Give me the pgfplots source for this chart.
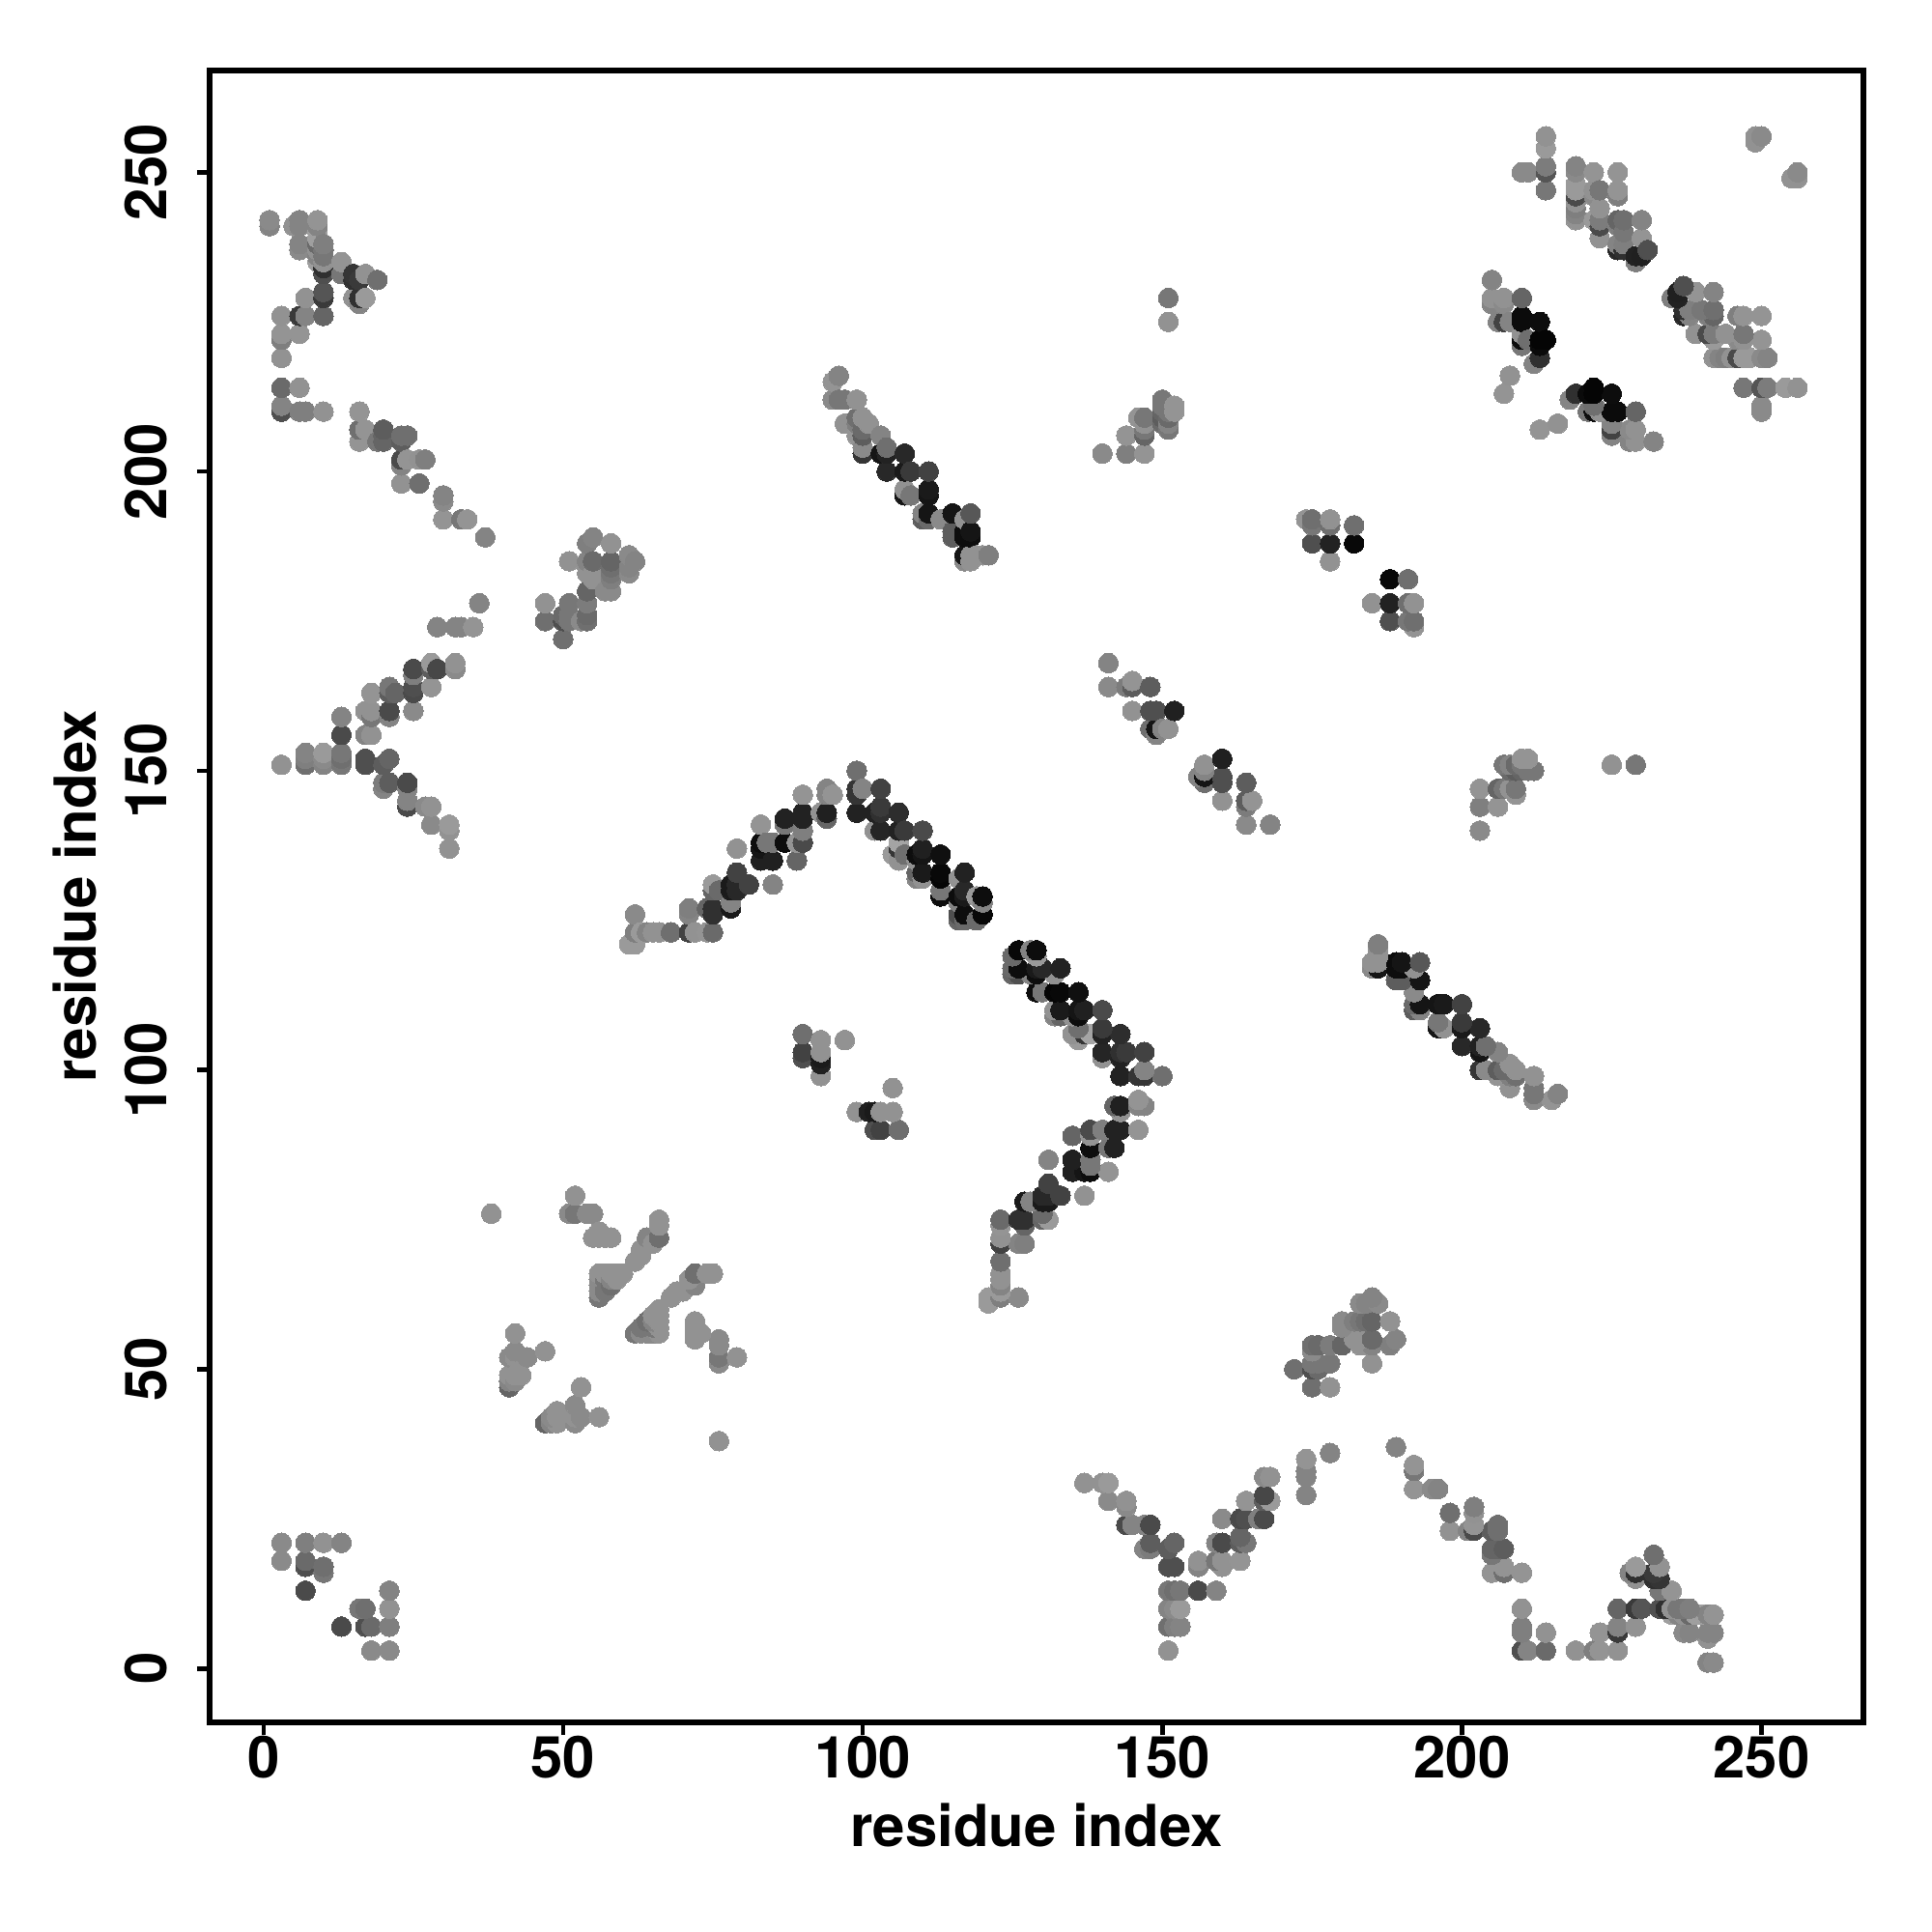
\documentclass[border=0pt]{standalone}
\usepackage{fontspec}
\setmainfont{TeX Gyre Heros}
\usepackage{pgfplots}
\usepackage{pgfplotstable}
\pgfplotsset{compat=1.18}

% contacts above the diagonal: residue i, residue j, grey level in percent
% the map is symmetric, so the same table is plotted twice
\pgfplotstableread[row sep=\\]{
i j g\\
1 241 50\\1 242 52\\3 219 55\\3 222 48\\3 223 56\\3 226 55\\5 241 55\\6 223 56\\6 226 22\\6 237 52\\6 238 50\\6 241 50\\6 242 50\\
7 226 50\\7 229 55\\9 235 60\\9 236 50\\9 237 55\\9 238 40\\9 239 60\\9 240 60\\9 241 50\\9 242 56\\
10 226 38\\10 229 22\\10 230 32\\10 233 30\\10 234 18\\10 235 55\\10 236 45\\10 237 45\\10 238 48\\
13 233 45\\13 235 56\\15 229 55\\15 232 18\\15 233 20\\16 228 50\\16 229 18\\16 232 22\\17 229 58\\17 233 55\\19 232 42\\
3 210 30\\3 211 50\\3 214 40\\6 210 48\\6 214 55\\7 210 48\\10 210 55\\16 205 56\\16 207 42\\16 210 56\\17 207 56\\19 205 45\\
20 205 38\\20 206 38\\20 207 35\\23 198 55\\23 201 50\\23 202 28\\23 205 35\\23 206 42\\24 202 56\\24 206 42\\26 198 42\\26 202 55\\
27 202 48\\30 192 56\\30 195 52\\30 196 50\\33 192 45\\34 192 56\\37 189 50\\
47 175 42\\47 178 55\\50 172 42\\50 175 30\\50 176 40\\51 175 45\\51 176 45\\51 178 45\\51 185 55\\53 175 52\\
54 175 42\\54 176 40\\54 178 47\\54 180 38\\54 183 55\\54 184 55\\54 185 50\\54 188 48\\55 182 55\\55 183 55\\55 185 40\\55 189 50\\
57 180 52\\58 180 52\\58 182 48\\58 183 45\\58 184 42\\58 185 38\\58 188 55\\61 183 52\\61 184 50\\61 186 52\\62 185 50\\
3 151 55\\7 151 42\\7 152 48\\7 153 50\\10 151 50\\10 152 52\\10 153 58\\13 151 45\\13 152 42\\13 153 45\\13 156 28\\13 159 50\\
17 151 30\\17 152 30\\17 156 50\\17 160 55\\18 156 55\\18 159 45\\18 160 55\\18 163 56\\20 147 50\\20 148 47\\20 151 35\\
21 148 35\\21 152 38\\21 159 50\\21 160 28\\21 163 35\\21 164 45\\22 163 38\\24 144 28\\24 145 50\\24 147 50\\24 148 28\\
25 160 52\\25 163 28\\25 164 30\\25 166 48\\25 167 28\\27 144 52\\28 141 52\\28 144 55\\28 164 56\\28 167 35\\28 168 58\\
29 167 27\\29 174 50\\31 137 55\\31 140 55\\31 141 58\\32 167 52\\32 168 55\\32 174 50\\33 174 50\\35 174 56\\36 178 50\\
61 121 58\\62 121 58\\62 123 48\\62 126 52\\63 123 58\\64 123 50\\65 123 55\\66 123 55\\68 123 42\\
71 123 25\\71 126 50\\71 127 48\\72 123 55\\74 123 56\\74 127 38\\75 123 40\\75 126 18\\75 127 18\\75 130 38\\75 131 58\\
76 130 40\\78 127 10\\78 128 50\\78 130 10\\78 131 10\\79 130 15\\79 131 15\\79 133 25\\79 137 55\\81 131 25\\
83 135 12\\83 137 8\\83 138 5\\83 141 56\\84 138 45\\85 131 50\\85 135 12\\85 138 45\\87 138 5\\87 141 45\\87 142 13\\
89 135 38\\89 138 56\\90 138 28\\90 140 48\\90 142 13\\90 143 13\\90 146 56\\93 143 55\\94 142 38\\94 143 12\\94 146 50\\94 147 50\\95 146 56\\
99 143 13\\99 146 20\\99 147 20\\99 150 42\\100 147 50\\102 140 55\\102 143 13\\103 140 14\\103 143 18\\103 144 22\\103 147 25\\
105 136 58\\106 135 55\\106 137 20\\106 138 62\\106 140 13\\106 143 17\\107 136 42\\107 140 22\\
109 132 50\\109 133 38\\109 135 55\\109 136 5\\110 132 55\\110 133 10\\110 136 8\\110 137 12\\110 140 28\\
113 129 5\\113 130 45\\113 132 2\\113 133 3\\113 136 6\\116 125 38\\116 126 30\\116 128 50\\116 129 5\\116 132 55\\
117 125 40\\117 126 5\\117 129 10\\117 130 15\\117 133 13\\119 125 40\\119 129 58\\120 126 3\\120 128 50\\120 129 5\\
90 102 30\\90 103 25\\90 106 42\\93 99 55\\93 101 12\\93 102 10\\93 103 55\\93 105 55\\97 105 55\\
95 212 52\\95 215 56\\96 212 45\\96 216 50\\97 208 55\\97 212 45\\99 206 56\\99 208 48\\99 209 42\\99 212 55\\
100 203 20\\100 204 52\\100 206 35\\100 207 40\\100 209 55\\101 208 55\\103 203 8\\103 206 50\\104 200 15\\104 203 13\\104 204 42\\
107 196 8\\107 197 55\\107 200 10\\107 203 15\\108 196 45\\108 200 22\\110 192 35\\110 193 50\\111 192 40\\111 193 8\\111 196 8\\111 197 10\\111 200 25\\
113 192 52\\115 189 35\\115 190 35\\115 193 8\\117 185 52\\117 186 8\\117 189 5\\117 190 5\\117 192 55\\118 185 55\\118 186 55\\118 189 5\\118 190 8\\118 193 33\\
119 186 55\\120 186 55\\121 186 48\\
140 203 52\\144 203 48\\144 206 56\\146 209 56\\147 203 56\\147 206 38\\147 207 45\\147 208 55\\147 209 45\\
150 208 40\\150 209 35\\150 210 38\\150 211 45\\150 212 45\\151 207 45\\151 208 50\\151 209 40\\151 210 45\\151 225 55\\151 229 45\\152 210 56\\152 211 56\\
141 164 52\\141 168 50\\144 164 47\\145 160 55\\145 164 35\\145 165 56\\148 157 42\\148 160 30\\148 164 35\\
149 156 50\\149 157 8\\149 160 30\\150 157 50\\151 157 55\\152 160 12\\
174 192 56\\175 188 30\\175 191 45\\175 192 42\\178 185 55\\178 188 13\\178 191 42\\178 192 55\\182 188 3\\182 191 42\\
205 228 50\\205 229 55\\205 232 50\\206 225 50\\207 213 56\\207 225 25\\207 228 52\\207 229 55\\208 216 55\\208 225 50\\
210 221 45\\210 222 5\\210 223 55\\210 225 4\\210 226 4\\210 229 38\\211 222 42\\212 218 50\\213 219 18\\213 221 4\\213 222 2\\213 225 5\\214 222 2\\
210 250 52\\211 250 52\\214 247 45\\214 250 32\\214 251 47\\214 254 58\\214 256 55\\
219 242 55\\219 243 50\\219 244 48\\219 245 55\\219 246 28\\219 247 58\\219 248 58\\219 250 52\\219 251 50\\
222 242 58\\222 246 52\\222 247 55\\222 250 56\\223 239 55\\223 241 28\\223 242 47\\223 244 55\\223 247 45\\
226 237 15\\226 238 50\\226 241 48\\226 242 38\\226 246 48\\226 247 56\\226 250 56\\
227 237 18\\227 238 48\\227 240 45\\227 242 42\\229 235 48\\229 236 13\\230 236 12\\230 239 56\\230 242 50\\231 237 30\\
249 255 55\\249 256 55\\250 256 52\\
3 18 52\\3 21 52\\7 13 28\\7 17 30\\7 18 40\\7 21 48\\10 16 45\\10 17 42\\10 21 55\\13 21 50\\
38 76 55\\41 47 38\\41 48 50\\41 49 55\\41 52 52\\42 48 52\\42 49 55\\42 52 55\\42 53 52\\42 56 55\\43 49 55\\44 52 52\\47 53 55\\
51 76 52\\52 76 45\\52 79 55\\54 76 52\\55 72 55\\55 76 52\\56 62 45\\56 63 52\\56 64 52\\56 65 52\\56 66 55\\56 72 55\\56 73 55\\
57 63 45\\57 65 45\\57 66 55\\57 72 55\\58 64 42\\58 65 50\\58 66 55\\58 72 55\\59 65 55\\59 66 55\\60 66 55\\
62 68 55\\63 69 55\\63 70 55\\64 72 50\\65 71 55\\66 72 42\\66 74 55\\66 75 55\\
}\contacts

\begin{document}
\begin{tikzpicture}[x=1cm,y=1cm]
  \path[use as bounding box] (-2.17,-2.17) rectangle (17.83,17.83);
  \begin{axis}[
      at={(0,0)}, anchor=south west,
      scale only axis,
      width=17.12cm, height=17.10cm,
      xmin=-9, xmax=267, ymin=-9, ymax=267,
      xtick={0,50,100,150,200,250}, ytick={0,50,100,150,200,250},
      tick pos=left, tick align=outside,
      major tick length=1.3mm,
      tick style={black, line width=1.3pt},
      axis line style={line width=1.5pt},
      /pgf/number format/assume math mode=true,
      ticklabel style={font=\fontsize{17.05}{20}\selectfont\bfseries},
      xticklabel style={yshift=1.15mm},
      yticklabel style={rotate=90, anchor=south, yshift=1.9mm},
      label style={font=\fontsize{17.05}{20}\selectfont\bfseries},
      xlabel={residue index}, ylabel={residue index},
      xlabel style={at={(axis description cs:0.5,-0.0622)}, anchor=center},
      ylabel style={at={(axis description cs:-0.0815,0.5)}, anchor=center, rotate=0},
      colormap={greyramp}{gray(0cm)=(0); gray(1cm)=(1)},
      point meta min=0, point meta max=97,
      scatter/use mapped color={draw=mapped color, fill=mapped color},
      mark options={line width=0pt},
    ]
    \addplot[scatter, scatter src=explicit, only marks, mark=*, mark size=1.02mm] table[x=i, y=j, meta=g] {\contacts};
    \addplot[scatter, scatter src=explicit, only marks, mark=*, mark size=1.02mm] table[x=j, y=i, meta=g] {\contacts};
  \end{axis}
\end{tikzpicture}
\end{document}
